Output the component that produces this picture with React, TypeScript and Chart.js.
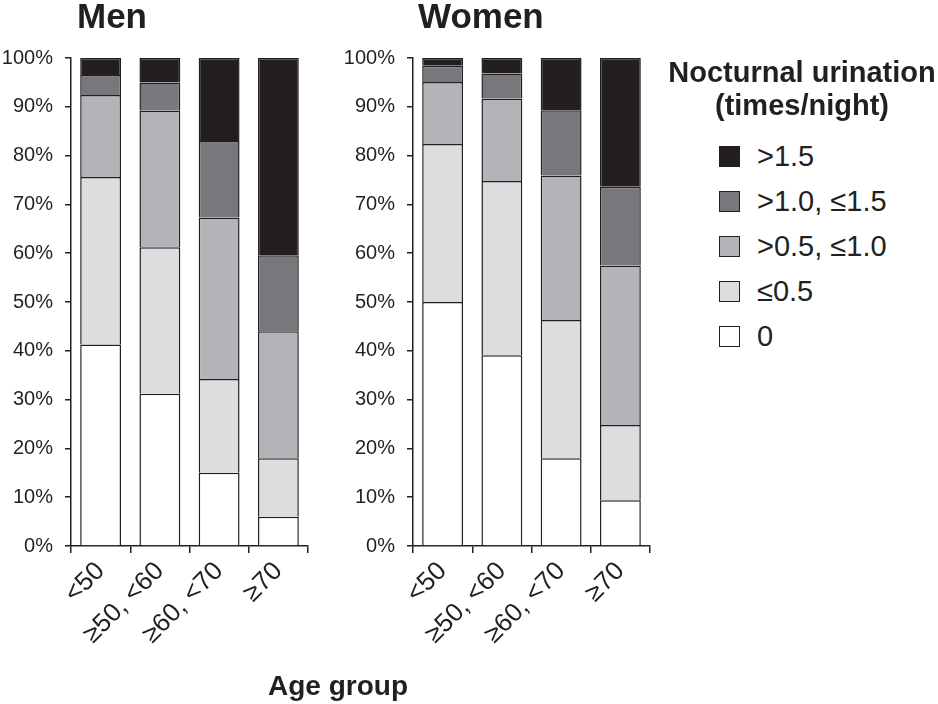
import React, { useEffect, useRef } from 'react';
import { Chart, registerables } from 'chart.js';

Chart.register(...registerables);

const ageGroups = ['<50', '≥50, <60', '≥60, <70', '≥70'];
const seriesLabels = ['0', '≤0.5', '>0.5, ≤1.0', '>1.0, ≤1.5', '>1.5'];
const seriesColors = ['#ffffff', '#dcdddf', '#b3b4b7', '#77787b', '#231f20'];

// Men (% of respondents per age group)
const menNone = [41.3, 31.2, 15.0, 6.0];
const menUpTo05 = [34.3, 30.0, 19.2, 12.0];
const menUpTo10 = [16.8, 28.0, 33.1, 26.0];
const menUpTo15 = [4.1, 5.8, 15.7, 15.6];
const menOver15 = [3.5, 5.0, 17.0, 40.4];

// Women
const womenNone = [50.0, 39.1, 18.0, 9.4];
const womenUpTo05 = [32.4, 35.7, 28.3, 15.4];
const womenUpTo10 = [12.7, 16.9, 29.6, 32.7];
const womenUpTo15 = [3.3, 5.1, 13.4, 16.1];
const womenOver15 = [1.6, 3.2, 10.7, 26.4];

const INK = '#231f20';
const FONT = '"Liberation Sans", Arial, Helvetica, sans-serif';

function Panel({ values, left }: { values: number[][]; left: number }) {
  const ref = useRef<HTMLCanvasElement | null>(null);
  useEffect(() => {
    if (!ref.current) return;
    const chart = new Chart(ref.current, {
      type: 'bar',
      data: {
        labels: ageGroups,
        datasets: seriesLabels.map((label, i) => ({
          label,
          data: values[i],
          backgroundColor: seriesColors[i],
          borderColor: INK,
          borderWidth: 1.5,
          barPercentage: 0.69,
          categoryPercentage: 1,
        })),
      },
      options: {
        responsive: false,
        animation: false,
        devicePixelRatio: 1,
        layout: { padding: { top: 58, right: 22, left: 0, bottom: 0 } },
        font: { family: FONT },
        plugins: {
          legend: { display: false },
          tooltip: { enabled: false },
          title: { display: false },
        },
        scales: {
          x: {
            stacked: true,
            grid: {
              drawOnChartArea: false,
              drawTicks: true,
              tickLength: 7,
              color: INK,
              lineWidth: 1.5,
              offset: true,
            },
            border: { display: true, color: INK, width: 1.5 },
            ticks: {
              color: INK,
              font: { size: 26, family: FONT },
              maxRotation: 45,
              minRotation: 45,
              autoSkip: false,
              padding: 3,
            },
            afterFit: (s: any) => {
              s.height = 158;
            },
          },
          y: {
            stacked: true,
            min: 0,
            max: 100,
            grid: {
              drawOnChartArea: false,
              drawTicks: true,
              tickLength: 6,
              color: INK,
              lineWidth: 1.5,
            },
            border: { display: true, color: INK, width: 1.5 },
            ticks: {
              stepSize: 10,
              color: INK,
              font: { size: 20, family: FONT },
              padding: 12,
              callback: (v: any) => v + '%',
            },
            afterFit: (s: any) => {
              s.width = 71;
            },
          },
        },
      } as any,
    });
    return () => chart.destroy();
  }, [values]);
  return (
    <canvas
      ref={ref}
      width={330}
      height={704}
      style={{ position: 'absolute', left, top: 0, width: 330, height: 704 }}
    />
  );
}

const menValues = [menNone, menUpTo05, menUpTo10, menUpTo15, menOver15];
const womenValues = [womenNone, womenUpTo05, womenUpTo10, womenUpTo15, womenOver15];

export default function App() {
  const legendOrder = seriesLabels.map((_, i) => i).reverse();
  return (
    <div
      style={{
        position: 'absolute',
        left: 0,
        top: 0,
        width: 938,
        height: 704,
        overflow: 'hidden',
        background: '#fff',
        fontFamily: FONT,
        color: INK,
      }}
    >
      <Panel values={menValues} left={0} />
      <Panel values={womenValues} left={342} />
      <div style={{ position: 'absolute', left: 77, top: -2, fontSize: 35, fontWeight: 'bold', lineHeight: '35px' }}>Men</div>
      <div style={{ position: 'absolute', left: 418, top: -2, fontSize: 35, fontWeight: 'bold', lineHeight: '35px' }}>Women</div>
      <div
        style={{
          position: 'absolute',
          left: 188,
          width: 300,
          top: 672,
          textAlign: 'center',
          fontSize: 28,
          fontWeight: 'bold',
          lineHeight: '28px',
        }}
      >
        Age group
      </div>
      <div
        style={{
          position: 'absolute',
          left: 652,
          width: 300,
          top: 56,
          textAlign: 'center',
          fontSize: 29,
          fontWeight: 'bold',
          lineHeight: '33px',
          whiteSpace: 'nowrap',
        }}
      >
        Nocturnal urination
        <br />
        (times/night)
      </div>
      {legendOrder.map((si, k) => {
        const cy = 156 + k * 45;
        return (
          <React.Fragment key={si}>
            <div
              style={{
                position: 'absolute',
                left: 719,
                top: cy - 10.5,
                width: 21,
                height: 21,
                boxSizing: 'border-box',
                border: `1.5px solid ${INK}`,
                background: seriesColors[si],
              }}
            />
            <div
              style={{
                position: 'absolute',
                left: 757,
                top: cy - 16,
                height: 32,
                lineHeight: '32px',
                fontSize: 29,
                whiteSpace: 'nowrap',
              }}
            >
              {seriesLabels[si]}
            </div>
          </React.Fragment>
        );
      })}
    </div>
  );
}
